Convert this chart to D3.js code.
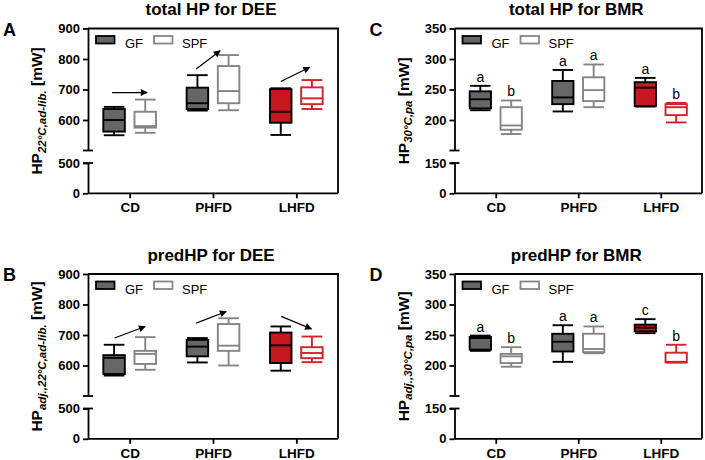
<!DOCTYPE html>
<html><head><meta charset="utf-8">
<script src="https://cdn.jsdelivr.net/npm/d3@7"></script>
<style>body{margin:0;background:#fff;} svg{display:block;font-family:"Liberation Sans",Arial,sans-serif;}</style>
</head><body>
<svg id="chart" width="705" height="460"></svg>
<script>
const categories = ["CD", "PHFD", "LHFD"];
const groups = ["GF", "SPF"];
// five-number summaries: [min, q1, median, q3, max]
const deeTotalGF  = [[550,562,600,636,643],[631,636,655,706,747],[551,591,627,701,704]];
const deeTotalSPF = [[558,575,580,627,667],[632,655,695,777,813],[636,652,671,707,731]];
const deePredGF   = [[567,572,625,634,668],[610,630,662,684,690],[583,608,666,708,728]];
const deePredSPF  = [[586,605,638,648,693],[600,648,665,736,755],[611,624,641,660,695]];
const bmrTotalGF  = [[216,219,234,247,256],[214,226,237,264,282],[222,223,253,262,269]];
const bmrTotalSPF = [[177,184,191,221,232],[221,231,249,270,291],[196,208,221,226,228]];
const bmrPredGF   = [[224,226,245,247,249],[206,223,239,252,266],[253,256,262,267,276]];
const bmrPredSPF  = [[198,204,215,219,230],[220,222,227,252,264],[205,205,206,221,234]];
// significance letters
const bmrTotalLettersGF  = ["a","a","a"];
const bmrTotalLettersSPF = ["b","a","b"];
const bmrPredLettersGF   = ["a","a","c"];
const bmrPredLettersSPF  = ["b","a","b"];
// arrows GF -> SPF: [start value, end value]
const deeTotalArrows = [[690,690],[767,827],[726,773]];
const deePredArrows  = [[690,728],[739,777],[761,720]];
// arrow horizontal extent, in units of group offset (-1 = GF, +1 = SPF)
const deeTotalArrowX = [[-1.13,1.12],[-1.08,0.46],[-1.0,0.86]];
const deePredArrowX  = [[-0.97,1.0],[-1.08,0.85],[-0.97,0.97]];
// axis ticks
const deeTicksUpper = [600,700,800,900];
const deeTicksLower = [0,500];
const bmrTicksUpper = [200,250,300,350];
const bmrTicksLower = [0,150];
const deeBreak = 500, deeMax = 900;
const bmrBreak = 150, bmrMax = 350;

const svg = d3.select("#chart");
svg.append("defs").append("marker")
  .attr("id","ah").attr("viewBox","0 0 10 10").attr("refX",9).attr("refY",5)
  .attr("markerWidth",9).attr("markerHeight",7).attr("markerUnits","userSpaceOnUse")
  .attr("orient","auto")
  .append("path").attr("d","M0,0L10,5L0,10Z").attr("fill","#000");

function drawPanel(o) {
  const g = svg.append("g");
  const axisX = o.axisX, rightX = o.rightX;
  const top = o.top, bUp = top + 122, bLow = top + 134.5, bottom = top + 164.8;
  const yU = d3.scaleLinear().domain([o.brk, o.max]).range([bUp, top]);
  const yL = d3.scaleLinear().domain([0, o.brk]).range([bottom, bLow]);
  const y = v => v >= o.brk ? yU(v) : yL(v);
  const x = d3.scalePoint().domain(categories).range([axisX, rightX]).padding(0.5);
  const step = x.step();
  const off = step * 0.187, bw = step * 0.258, cap = bw * 0.48;
  const xg = (c, gi) => x(c) + (gi === 0 ? -off : off);

  // frame: top + right
  g.append("path").attr("d", `M${axisX},${top}H${rightX}V${bottom}`)
    .attr("fill","none").attr("stroke","#000").attr("stroke-width",1.8);
  // y axis upper / lower segments
  const axU = g.append("g").attr("transform",`translate(${axisX},0)`)
    .call(d3.axisLeft(yU).tickValues(o.ticksU).tickSize(5).tickPadding(3).tickSizeOuter(0));
  const axL = g.append("g").attr("transform",`translate(${axisX},0)`)
    .call(d3.axisLeft(yL).tickValues(o.ticksL).tickSize(5).tickPadding(3).tickSizeOuter(0));
  [axU, axL].forEach(a => {
    a.select(".domain").attr("stroke","#000").attr("stroke-width",1.8);
    a.selectAll(".tick line").attr("stroke","#000").attr("stroke-width",1.8);
    a.selectAll(".tick text").attr("font-size",13).attr("font-weight","bold").attr("fill","#000")
      .attr("font-family",'"Liberation Sans",Arial,sans-serif');
  });
  // break stubs
  [bUp, bLow].forEach(yy => g.append("line").attr("x1",axisX-5).attr("x2",axisX+5)
    .attr("y1",yy).attr("y2",yy).attr("stroke","#000").attr("stroke-width",1.8));
  // x axis
  const axX = g.append("g").attr("transform",`translate(0,${bottom})`)
    .call(d3.axisBottom(x).tickSize(5).tickPadding(7).tickSizeOuter(0));
  axX.select(".domain").attr("stroke","#000").attr("stroke-width",1.8)
    .attr("d", `M${axisX},0H${rightX}`);
  axX.selectAll(".tick line").attr("stroke","#000").attr("stroke-width",1.8);
  axX.selectAll(".tick text").attr("font-size",13.5).attr("font-weight","bold").attr("fill","#000")
    .attr("dy", null).attr("y", 19)
    .attr("font-family",'"Liberation Sans",Arial,sans-serif');

  // boxes
  const sets = [o.gf, o.spf];
  sets.forEach((arr, gi) => {
    arr.forEach((s, ci) => {
      const c = categories[ci];
      const red = c === "LHFD";
      const fill = gi === 0 ? (red ? "#c8171e" : "#666666") : "#ffffff";
      const stroke = gi === 0 ? "#000" : (red ? "#d2232a" : "#858585");
      const cx = xg(c, gi);
      const bg = g.append("g").attr("stroke", stroke).attr("stroke-width", 1.9).attr("fill","none");
      bg.append("line").attr("x1",cx).attr("x2",cx).attr("y1",y(s[4])).attr("y2",y(s[3]));
      bg.append("line").attr("x1",cx).attr("x2",cx).attr("y1",y(s[1])).attr("y2",y(s[0]));
      bg.append("line").attr("x1",cx-cap).attr("x2",cx+cap).attr("y1",y(s[4])).attr("y2",y(s[4]));
      bg.append("line").attr("x1",cx-cap).attr("x2",cx+cap).attr("y1",y(s[0])).attr("y2",y(s[0]));
      bg.append("rect").attr("x",cx-bw/2).attr("width",bw).attr("y",y(s[3]))
        .attr("height",y(s[1])-y(s[3])).attr("fill",fill);
      bg.append("line").attr("x1",cx-bw/2).attr("x2",cx+bw/2).attr("y1",y(s[2])).attr("y2",y(s[2]));
      if (o.letters) {
        g.append("text").attr("x",cx).attr("y",y(s[4])-4).attr("text-anchor","middle")
          .attr("font-size",14).attr("fill","#000").text(o.letters[gi][ci]);
      }
    });
  });
  // arrows
  if (o.arrows) {
    o.arrows.forEach((a, ci) => {
      const c = categories[ci];
      const fx = o.arrowX[ci];
      g.append("line").attr("x1", x(c) + fx[0]*off).attr("x2", x(c) + fx[1]*off)
        .attr("y1", y(a[0])).attr("y2", y(a[1]))
        .attr("stroke","#000").attr("stroke-width",1.2).attr("marker-end","url(#ah)");
    });
  }
  // legend
  const ly = top + 7.5;
  g.append("rect").attr("x",axisX+8).attr("y",ly).attr("width",18.5).attr("height",7.5)
    .attr("fill","#666666").attr("stroke","#000").attr("stroke-width",1.8);
  g.append("text").attr("x",axisX+37).attr("y",ly+12).attr("font-size",13).attr("fill","#000").text(groups[0]);
  g.append("rect").attr("x",axisX+66).attr("y",ly).attr("width",18.5).attr("height",7.5)
    .attr("fill","#fff").attr("stroke","#858585").attr("stroke-width",1.8);
  g.append("text").attr("x",axisX+94).attr("y",ly+12).attr("font-size",13).attr("fill","#000").text(groups[1]);

  // title
  g.append("text").attr("x",(axisX+rightX)/2-2).attr("y",top-13.5).attr("text-anchor","middle")
    .attr("font-size",17).attr("font-weight","bold").attr("fill","#000").text(o.title);
  // panel letter
  g.append("text").attr("x",axisX-85).attr("y",top+7).attr("font-size",18).attr("font-weight","bold")
    .attr("fill","#000").text(o.letter);
  // y label
  const ycen = (top + bottom) / 2;
  const t = g.append("text").attr("transform",`translate(${axisX-46},${ycen}) rotate(-90)`)
    .attr("text-anchor","middle").attr("font-weight","bold").attr("fill","#000").attr("font-size",15.5);
  t.append("tspan").text("HP");
  t.append("tspan").attr("dy",3.5).attr("font-size",11.5).attr("font-style","italic").text(o.sub);
  t.append("tspan").attr("dy",-3.5).text(" [mW]");
}

drawPanel({axisX:88, rightX:338, top:28.5, brk:deeBreak, max:deeMax, ticksU:deeTicksUpper, ticksL:deeTicksLower,
  gf:deeTotalGF, spf:deeTotalSPF, arrows:deeTotalArrows, arrowX:deeTotalArrowX, title:"total HP for DEE", letter:"A", sub:"22°C,ad-lib."});
drawPanel({axisX:88, rightX:338, top:274, brk:deeBreak, max:deeMax, ticksU:deeTicksUpper, ticksL:deeTicksLower,
  gf:deePredGF, spf:deePredSPF, arrows:deePredArrows, arrowX:deePredArrowX, title:"predHP for DEE", letter:"B", sub:"adj.,22°C,ad-lib."});
drawPanel({axisX:454.5, rightX:702, top:28.5, brk:bmrBreak, max:bmrMax, ticksU:bmrTicksUpper, ticksL:bmrTicksLower,
  gf:bmrTotalGF, spf:bmrTotalSPF, letters:[bmrTotalLettersGF, bmrTotalLettersSPF], title:"total HP for BMR", letter:"C", sub:"30°C,pa"});
drawPanel({axisX:454.5, rightX:702, top:274, brk:bmrBreak, max:bmrMax, ticksU:bmrTicksUpper, ticksL:bmrTicksLower,
  gf:bmrPredGF, spf:bmrPredSPF, letters:[bmrPredLettersGF, bmrPredLettersSPF], title:"predHP for BMR", letter:"D", sub:"adj.,30°C,pa"});
</script>
</body></html>
